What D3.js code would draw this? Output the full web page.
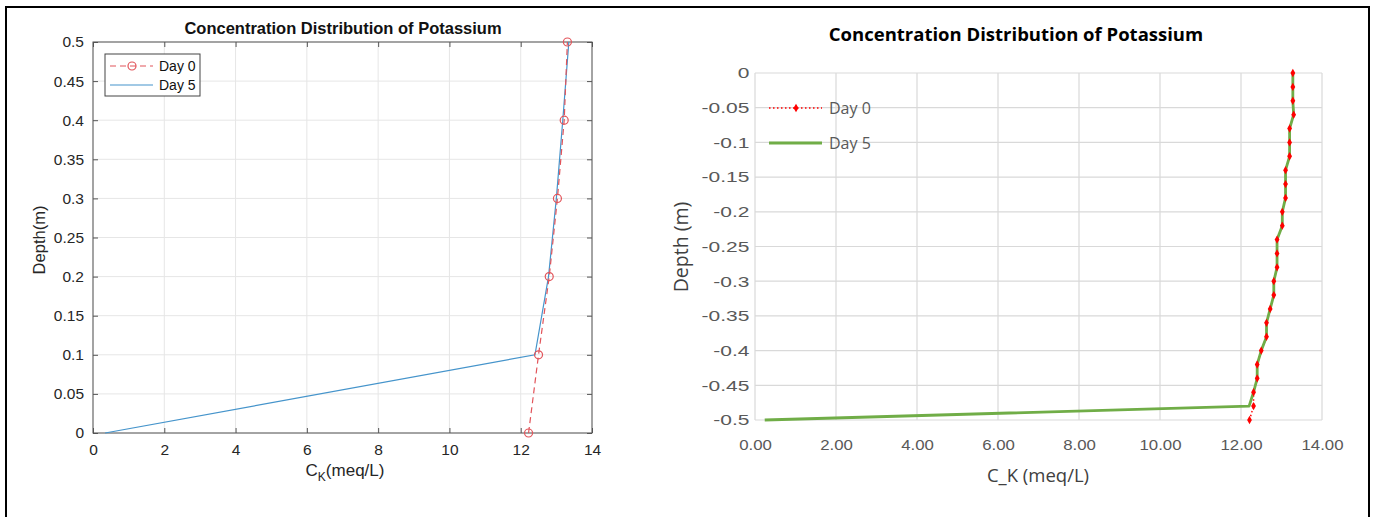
<!DOCTYPE html>
<html>
<head>
<meta charset="utf-8">
<script src="https://cdn.jsdelivr.net/npm/d3@7"></script>
<style>
body{margin:0;background:#fff;}
svg{display:block;}
</style>
</head>
<body>
<svg id="chart" width="1376" height="517"></svg>
<script>
// left chart (matlab)
var depthL = [0, 0.1, 0.2, 0.3, 0.4, 0.5];
var day0L = [12.22, 12.5, 12.8, 13.03, 13.22, 13.31];
var day5L = [0.34, 12.4, 12.78, 13.0, 13.18, 13.35];
var xTicksL = [0, 2, 4, 6, 8, 10, 12, 14];
var yTicksL = [0, 0.05, 0.1, 0.15, 0.2, 0.25, 0.3, 0.35, 0.4, 0.45, 0.5];

// right chart (excel)
var depthR = [0, -0.02, -0.04, -0.06, -0.08, -0.1, -0.12, -0.14, -0.16, -0.18, -0.2, -0.22, -0.24,
              -0.26, -0.28, -0.3, -0.32, -0.34, -0.36, -0.38, -0.4, -0.42, -0.44, -0.46, -0.48, -0.5];
var day0R = [13.28, 13.28, 13.28, 13.3, 13.2, 13.2, 13.2, 13.1, 13.1, 13.1, 13.02, 13.02, 12.89,
             12.89, 12.89, 12.81, 12.81, 12.72, 12.63, 12.63, 12.5, 12.4, 12.4, 12.31, 12.31, 12.21];
var day5R = [13.28, 13.28, 13.28, 13.3, 13.2, 13.2, 13.2, 13.1, 13.1, 13.1, 13.02, 13.02, 12.89,
             12.89, 12.89, 12.81, 12.81, 12.72, 12.63, 12.63, 12.5, 12.4, 12.4, 12.31, 12.2, 0.24];
var xTicksR = [0, 2, 4, 6, 8, 10, 12, 14];
var yTicksR = [0, -0.05, -0.1, -0.15, -0.2, -0.25, -0.3, -0.35, -0.4, -0.45, -0.5];
var seriesNames = ["Day 0", "Day 5"];

var svg = d3.select("#chart");

// outer frame
svg.append("path")
	.attr("d", "M6,517V7H1369V517")
	.attr("fill", "none")
	.attr("stroke", "#000")
	.attr("stroke-width", 2);

/* ---------- left ---------- */
var L = {left:93, right:592, top:42, bottom:433};
var xL = d3.scaleLinear().domain([0, 14]).range([L.left, L.right]);
var yL = d3.scaleLinear().domain([0, 0.5]).range([L.bottom, L.top]);
var gL = svg.append("g").attr("font-family", "'Liberation Sans', Arial, sans-serif");

// grid
gL.append("g").selectAll("line").data(xTicksL).enter().append("line")
	.attr("x1", function(d){ return xL(d); }).attr("x2", function(d){ return xL(d); })
	.attr("y1", L.top).attr("y2", L.bottom)
	.attr("stroke", "#e6e6e6");
gL.append("g").selectAll("line").data(yTicksL).enter().append("line")
	.attr("y1", function(d){ return yL(d); }).attr("y2", function(d){ return yL(d); })
	.attr("x1", L.left).attr("x2", L.right)
	.attr("stroke", "#e6e6e6");

function styleAxis(g, col){
	g.select(".domain").remove();
	g.selectAll(".tick line").attr("stroke", col);
	g.selectAll(".tick text").attr("fill", "#262626").attr("font-size", 15.5);
}
gL.append("g").attr("transform", "translate(0," + L.bottom + ")")
	.call(d3.axisBottom(xL).tickValues(xTicksL).tickSize(-5).tickPadding(11).tickFormat(d3.format("d")))
	.call(styleAxis, "#555");
gL.append("g").attr("transform", "translate(0," + L.top + ")")
	.call(d3.axisTop(xL).tickValues(xTicksL).tickSize(-5).tickFormat(""))
	.call(styleAxis, "#555");
gL.append("g").attr("transform", "translate(" + L.left + ",0)")
	.call(d3.axisLeft(yL).tickValues(yTicksL).tickSize(-5).tickPadding(9).tickFormat(function(d){ return d3.format("~g")(d); }))
	.call(styleAxis, "#555");
gL.append("g").attr("transform", "translate(" + L.right + ",0)")
	.call(d3.axisRight(yL).tickValues(yTicksL).tickSize(-5).tickFormat(""))
	.call(styleAxis, "#555");
gL.append("rect")
	.attr("x", L.left).attr("y", L.top)
	.attr("width", L.right - L.left).attr("height", L.bottom - L.top)
	.attr("fill", "none").attr("stroke", "#555").attr("stroke-width", 1);

var lineL0 = d3.line().x(function(d,i){ return xL(day0L[i]); }).y(function(d){ return yL(d); });
var lineL5 = d3.line().x(function(d,i){ return xL(day5L[i]); }).y(function(d){ return yL(d); });
gL.append("path").datum(depthL).attr("d", lineL5)
	.attr("fill", "none").attr("stroke", "#4594cb").attr("stroke-width", 1.2);
gL.append("path").datum(depthL).attr("d", lineL0)
	.attr("fill", "none").attr("stroke", "#e2545a").attr("stroke-width", 1.2)
	.attr("stroke-dasharray", "6,4");
gL.append("g").selectAll("circle").data(depthL).enter().append("circle")
	.attr("cx", function(d,i){ return xL(day0L[i]); })
	.attr("cy", function(d){ return yL(d); })
	.attr("r", 4)
	.attr("fill", "none").attr("stroke", "#e2545a").attr("stroke-width", 1.2);

// title + labels
gL.append("text").attr("x", 343).attr("y", 34).attr("text-anchor", "middle")
	.attr("font-weight", "bold").attr("font-size", 16.5).attr("fill", "#111")
	.text("Concentration Distribution of Potassium");
var xlab = gL.append("text").attr("x", 345).attr("y", 476).attr("text-anchor", "middle")
	.attr("font-size", 17).attr("fill", "#262626");
xlab.append("tspan").text("C");
xlab.append("tspan").attr("font-size", 12).attr("dy", 5).text("K");
xlab.append("tspan").attr("dy", -5).text("(meq/L)");
gL.append("text").attr("transform", "translate(45,240) rotate(-90)").attr("text-anchor", "middle")
	.attr("font-size", 16.5).attr("fill", "#262626").text("Depth(m)");

// legend
var legL = gL.append("g").attr("transform", "translate(105,54)");
legL.append("rect").attr("width", 95).attr("height", 42)
	.attr("fill", "#fff").attr("stroke", "#444").attr("stroke-width", 1);
legL.append("line").attr("x1", 5).attr("x2", 48).attr("y1", 12).attr("y2", 12)
	.attr("stroke", "#e2545a").attr("stroke-width", 1.2).attr("stroke-dasharray", "6,4");
legL.append("circle").attr("cx", 27).attr("cy", 12).attr("r", 4)
	.attr("fill", "none").attr("stroke", "#e2545a").attr("stroke-width", 1.2);
legL.append("line").attr("x1", 5).attr("x2", 48).attr("y1", 31).attr("y2", 31)
	.attr("stroke", "#4594cb").attr("stroke-width", 1.2);
legL.selectAll("text.lab").data(seriesNames).enter().append("text")
	.attr("x", 54).attr("y", function(d,i){ return 17 + i*19; })
	.attr("font-size", 14).attr("fill", "#111")
	.text(function(d){ return d; });

/* ---------- right ---------- */
var R = {left:755, right:1322, top:73, bottom:420};
var xR = d3.scaleLinear().domain([0, 14]).range([R.left, R.right]);
var yR = d3.scaleLinear().domain([-0.5, 0]).range([R.bottom, R.top]);
var gR = svg.append("g").attr("font-family", "'Open Sans', 'Noto Sans', sans-serif");

gR.append("g").selectAll("line").data(xTicksR).enter().append("line")
	.attr("x1", function(d){ return xR(d); }).attr("x2", function(d){ return xR(d); })
	.attr("y1", R.top).attr("y2", R.bottom)
	.attr("stroke", "#d9d9d9").attr("stroke-width", 1.2);
gR.append("g").selectAll("line").data(yTicksR).enter().append("line")
	.attr("y1", function(d){ return yR(d); }).attr("y2", function(d){ return yR(d); })
	.attr("x1", R.left).attr("x2", R.right)
	.attr("stroke", "#d9d9d9").attr("stroke-width", 1.2);

function styleAxisR(g, sx){
	g.select(".domain").remove();
	g.selectAll(".tick line").remove();
	g.selectAll(".tick text").attr("fill", "#595959").attr("font-size", 15)
		.attr("transform", "scale(" + sx + ",1)");
}
gR.append("g").attr("transform", "translate(0," + R.bottom + ")")
	.call(d3.axisBottom(xR).tickValues(xTicksR).tickSize(0).tickPadding(19).tickFormat(d3.format(".2f")))
	.call(styleAxisR, 1.12);
gR.append("g").attr("transform", "translate(" + R.left + ",0)")
	.call(d3.axisLeft(yR).tickValues(yTicksR).tickSize(0).tickPadding(4).tickFormat(function(d){ return d3.format("~g")(d).replace("\u2212", "-"); }))
	.call(styleAxisR, 1.4);

var lineR0 = d3.line().x(function(d,i){ return xR(day0R[i]); }).y(function(d){ return yR(d); });
var lineR5 = d3.line().x(function(d,i){ return xR(day5R[i]); }).y(function(d){ return yR(d); });
gR.append("path").datum(depthR).attr("d", lineR0)
	.attr("fill", "none").attr("stroke", "#ff0000").attr("stroke-width", 1.5)
	.attr("stroke-dasharray", "1.5,2.5");
gR.append("path").datum(depthR).attr("d", lineR5)
	.attr("fill", "none").attr("stroke", "#70ad47").attr("stroke-width", 2.8)
	.attr("stroke-linejoin", "round");
gR.append("g").selectAll("path").data(depthR).enter().append("path")
	.attr("transform", function(d,i){ return "translate(" + xR(day0R[i]) + "," + yR(d) + ")"; })
	.attr("d", d3.symbol().type(d3.symbolDiamond).size(20))
	.attr("fill", "#ff0000");

gR.append("text").attr("x", 1016).attr("y", 41).attr("text-anchor", "middle")
	.attr("font-weight", "bold").attr("font-size", 18.5).attr("fill", "#000")
	.text("Concentration Distribution of Potassium");
gR.append("text").attr("x", 1038).attr("y", 482).attr("text-anchor", "middle")
	.attr("font-size", 18.5).attr("fill", "#404040").text("C_K (meq/L)");
gR.append("text").attr("transform", "translate(688,247) rotate(-90)").attr("text-anchor", "middle")
	.attr("font-size", 19.5).attr("fill", "#404040").text("Depth (m)");

var legR = gR.append("g").attr("transform", "translate(769,108)");
legR.append("line").attr("x1", 0).attr("x2", 53).attr("y1", 0).attr("y2", 0)
	.attr("stroke", "#ff0000").attr("stroke-width", 1.5).attr("stroke-dasharray", "1.5,2.5");
legR.append("path").attr("transform", "translate(27,0)")
	.attr("d", d3.symbol().type(d3.symbolDiamond).size(22)).attr("fill", "#ff0000");
legR.append("line").attr("x1", 0).attr("x2", 53).attr("y1", 35).attr("y2", 35)
	.attr("stroke", "#70ad47").attr("stroke-width", 2.8);
legR.selectAll("text.lab").data(seriesNames).enter().append("text")
	.attr("x", 60).attr("y", function(d,i){ return 6 + i*35; })
	.attr("font-size", 16).attr("fill", "#595959")
	.text(function(d){ return d; });
</script>
</body>
</html>
